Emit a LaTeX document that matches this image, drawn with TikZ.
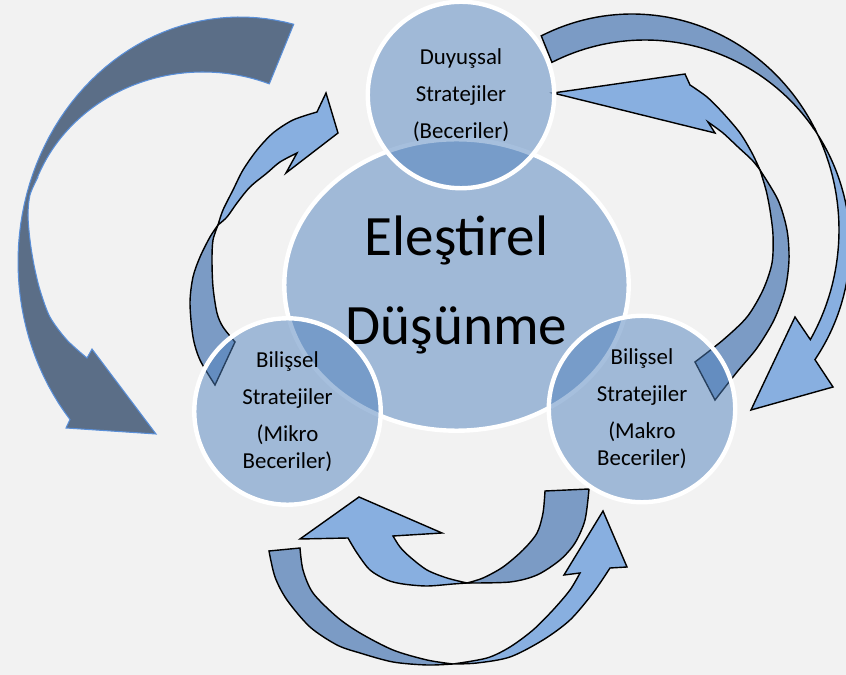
\documentclass[tikz,border=0pt]{standalone}
\usepackage{fontspec}
\setmainfont{Carlito}
\usepackage{tikz}
\usetikzlibrary{shapes.geometric}
\definecolor{vennblue}{HTML}{4F81BD}
\definecolor{vennbg}{HTML}{F2F2F2}
\definecolor{bandlightfill}{HTML}{88AFE0}
\definecolor{banddarkfill}{HTML}{7B9BC5}
\definecolor{slatefill}{HTML}{5B6E87}
\definecolor{slateline}{HTML}{5A8FD8}
\tikzset{
    % Central ellipse
    critnode/.style={
        ellipse,
        draw=white,
        fill=vennblue,
        fill opacity=0.5,
        text opacity=1,
        line width=2.5pt,
        minimum width=6.89cm,
        minimum height=5.83cm,
        inner sep=0pt,
        align=center,
        font=\fontsize{32.5}{51}\selectfont
    },
    % Strategy circle
    stratnode/.style={
        circle,
        draw=white,
        fill=vennblue,
        fill opacity=0.5,
        text opacity=1,
        line width=2.5pt,
        minimum size=3.73cm,
        inner sep=0pt,
        align=center,
        font=\fontsize{13}{15.5}\selectfont
    },
    % Curved arrow bands
    bandlight/.style={
        fill=bandlightfill,
        draw=black,
        line width=0.8pt
    },
    banddark/.style={
        fill=banddarkfill,
        draw=black,
        line width=0.8pt
    },
    % Large back arrow
    backarrow/.style={
        fill=slatefill,
        draw=slateline,
        line width=0.6pt
    }
}

\begin{document}
\begin{tikzpicture}[x=0.02cm, y=-0.02cm]

    % Background
    \useasboundingbox (0,0) rectangle (846,675);
    \fill[vennbg] (0,0) rectangle (846,675);

    % Large arrow on the left
    \filldraw[backarrow]
        plot[domain=76:220, samples=60, variable=\t] ({240+222*cos(\t)}, {262-245*sin(\t)})
        -- (66,428) -- (156,434) -- (92,349) -- (87,358)
        -- plot[smooth] coordinates {(87,358) (67,340) (50,317) (40,290) (34,265) (30,240) (28,215) (30,195) (37,179)}
        -- plot[domain=160:68, samples=50, variable=\t] ({203+177*cos(\t)}, {235-163*sin(\t)})
        -- cycle;

    % Arrow from micro to top
    \filldraw[banddark]
        plot[smooth] coordinates {(215,385) (200,360) (193,337) (190,303) (193,277) (200,257) (210,237) (218,225)}
        -- plot[smooth] coordinates {(218,225) (213,240) (212,260) (213,287) (217,313) (223,327) (235,342)}
        -- cycle;
    \filldraw[bandlight]
        plot[smooth] coordinates {(218,225) (223,210) (233,190) (243,170) (257,150) (273,133) (293,120) (317,112)}
        -- (326,93) -- (338,133) -- (286,173) -- (297,153)
        -- plot[smooth] coordinates {(297,153) (280,162) (267,173) (250,187) (237,203) (227,217) (218,225)}
        -- cycle;

    % Arrow from macro to affective
    \filldraw[bandlight]
        plot[smooth] coordinates {(760,170) (752,153) (740,133) (723,113) (707,97) (690,85)}
        -- (685,74) -- (553,93) -- (715,133) -- (708,122)
        -- plot[smooth] coordinates {(708,122) (723,133) (738,147) (752,160) (760,170)}
        -- cycle;
    \filldraw[banddark]
        plot[smooth] coordinates {(760,170) (766,190) (770,210) (773,235) (772,263) (763,290) (747,317) (723,340) (695,362)}
        -- (715,400)
        -- plot[smooth] coordinates {(715,400) (737,372) (757,348) (774,320) (785,290) (789,260) (787,230) (778,200) (760,170)}
        -- cycle;

    % Arrow from affective to macro
    \filldraw[banddark]
        plot[domain=116:28.2, samples=50, variable=\t] ({632+207*cos(\t)}, {230-216*sin(\t)})
        -- plot[domain=34.8:117, samples=50, variable=\t] ({645+205*cos(\t)}, {245-205*sin(\t)})
        -- cycle;
    \filldraw[bandlight]
        plot[domain=28.2:-30.5, samples=50, variable=\t] ({632+207*cos(\t)}, {230-216*sin(\t)})
        -- (795,317) -- (751,410) -- (833,387)
        -- plot[domain=-34:34.8, samples=50, variable=\t] ({645+205*cos(\t)}, {245-205*sin(\t)})
        -- cycle;

    % Arrow from macro to micro
    \filldraw[banddark]
        plot[smooth] coordinates {(545,491) (543,513) (537,533) (523,550) (503,567) (483,578) (467,583)}
        -- plot[smooth] coordinates {(467,583) (510,582) (537,575) (560,560) (575,543) (585,520) (589,489)}
        -- cycle;
    \filldraw[bandlight]
        plot[smooth] coordinates {(467,583) (447,578) (427,570) (410,557) (400,547) (393,536)}
        -- (442,533) -- (359,497) -- (300,539) -- (348,538)
        -- plot[smooth] coordinates {(348,538) (357,553) (370,570) (387,580) (403,584) (427,586) (453,584) (467,583)}
        -- cycle;

    % Arrow from micro to macro
    \filldraw[banddark]
        plot[smooth] coordinates {(269,551) (275,577) (287,600) (310,627) (337,645) (360,653) (393,662) (427,665) (453,664)}
        -- plot[smooth] coordinates {(453,664) (427,660) (393,650) (360,633) (337,617) (313,593) (303,570) (300,548)}
        -- cycle;
    \filldraw[bandlight]
        plot[smooth] coordinates {(453,664) (477,663) (510,657) (543,640) (570,620) (593,593) (610,568)}
        -- (627,567) -- (603,511) -- (564,575) -- (580,573)
        -- plot[smooth] coordinates {(580,573) (570,590) (553,610) (533,630) (510,647) (487,658) (453,664)}
        -- cycle;

    % Venn shapes
    \node[critnode] (crit) at (456.5,285) {Eleştirel\\Düşünme};
    \node[stratnode] (affect) at (461,95) {Duyuşsal\\[5.5pt]Stratejiler\\[5.5pt](Beceriler)};
    \node[stratnode] (micro) at (287.5,411.5) {Bilişsel\\[5.5pt]Stratejiler\\[5.5pt](Mikro\\Beceriler)};
    \node[stratnode] (macro) at (642,409) {Bilişsel\\[5.5pt]Stratejiler\\[5.5pt](Makro\\Beceriler)};

\end{tikzpicture}
\end{document}
